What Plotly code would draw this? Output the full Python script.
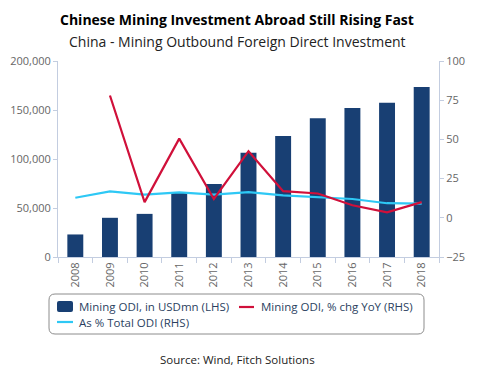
import plotly.graph_objects as go

years = ["2008", "2009", "2010", "2011", "2012", "2013", "2014", "2015", "2016", "2017", "2018"]
mining_odi = [23000, 40000, 44000, 66000, 74500, 106500, 123500, 141500, 152000, 157500, 173500]
yoy_chg = [None, 78, 10, 50.5, 12, 42.5, 17, 15.5, 8, 3.5, 10]
pct_total = [12.8, 16.9, 14.8, 16.2, 14.8, 16.4, 14.3, 13.3, 12.0, 9.3, 9.1]

names = ["Mining ODI, in USDmn (LHS)", "Mining ODI, % chg YoY (RHS)", "As % Total ODI (RHS)"]
colors = ["#183f73", "#d0103a", "#2ec8f5"]

W, H = 488, 381
L, R, T, B = 58, 49, 61, 124
pw, ph = W - L - R, H - T - B

def px(x):
    return (x - L) / pw

def py(y):
    return (H - B - y) / ph

fig = go.Figure()
fig.add_trace(go.Bar(x=years, y=mining_odi, name=names[0],
                     marker=dict(color=colors[0], line=dict(width=0)), width=0.46))
fig.add_trace(go.Scatter(x=years, y=pct_total, name=names[2], yaxis="y2",
                         mode="lines", line=dict(color=colors[2], width=2.2)))
fig.add_trace(go.Scatter(x=years, y=yoy_chg, name=names[1], yaxis="y2",
                         mode="lines", line=dict(color=colors[1], width=2.2)))

axcol = "#c3cde0"
tickfont = dict(family="Open Sans", size=11, color="#666666")
fig.update_layout(
    width=W, height=H,
    margin=dict(l=L, r=R, t=T, b=B, autoexpand=False),
    paper_bgcolor="white", plot_bgcolor="white",
    font=dict(family="Open Sans", color="#1f3b64"),
    showlegend=False,
    xaxis=dict(type="category", showgrid=False, showline=True, linecolor=axcol, linewidth=1,
               ticks="outside", tickson="boundaries", ticklen=5, tickcolor=axcol,
               tickangle=-90, tickfont=tickfont, zeroline=False, automargin=False),
    yaxis=dict(range=[0, 200000], dtick=50000, tickformat=",", showgrid=False, showline=True,
               linecolor=axcol, ticks="outside", ticklen=4, tickcolor=axcol,
               tickfont=tickfont, zeroline=False, automargin=False),
    yaxis2=dict(range=[-25, 100], dtick=25, overlaying="y", side="right", showgrid=False,
                showline=True, linecolor=axcol, ticks="outside", ticklen=4, tickcolor=axcol,
                tickfont=tickfont, zeroline=False, automargin=False),
)

# rounded legend border
x0, x1, y0, y1 = px(49), px(424), py(334), py(294)
rx, ry = 6 / pw, 6 / ph
path = (f"M {x0+rx},{y1} L {x1-rx},{y1} Q {x1},{y1} {x1},{y1-ry} "
        f"L {x1},{y0+ry} Q {x1},{y0} {x1-rx},{y0} L {x0+rx},{y0} "
        f"Q {x0},{y0} {x0},{y0+ry} L {x0},{y1-ry} Q {x0},{y1} {x0+rx},{y1} Z")
fig.add_shape(type="path", path=path, xref="paper", yref="paper",
              line=dict(color="#8c8c8c", width=1), fillcolor="rgba(0,0,0,0)")

# legend symbols
sx0, sx1, sy0, sy1 = px(57), px(73), py(312), py(301)
srx, sry = 2 / pw, 2 / ph
spath = (f"M {sx0+srx},{sy1} L {sx1-srx},{sy1} Q {sx1},{sy1} {sx1},{sy1-sry} "
         f"L {sx1},{sy0+sry} Q {sx1},{sy0} {sx1-srx},{sy0} L {sx0+srx},{sy0} "
         f"Q {sx0},{sy0} {sx0},{sy0+sry} L {sx0},{sy1-sry} Q {sx0},{sy1} {sx0+srx},{sy1} Z")
fig.add_shape(type="path", path=spath, xref="paper", yref="paper",
              line=dict(width=0), fillcolor=colors[0])
fig.add_shape(type="line", x0=px(239), x1=px(254), y0=py(307), y1=py(307),
              xref="paper", yref="paper", line=dict(color=colors[1], width=2.2))
fig.add_shape(type="line", x0=px(57), x1=px(73), y0=py(322), y1=py(322),
              xref="paper", yref="paper", line=dict(color=colors[2], width=2.2))

legfont = dict(family="Open Sans", size=11.5, color="#2b3f5f")
for text, lx, ly in [(names[0], 77, 306), (names[1], 259, 306), (names[2], 77, 322)]:
    fig.add_annotation(text=text, x=px(lx), y=py(ly), xref="paper", yref="paper",
                       xanchor="left", yanchor="middle", showarrow=False, font=legfont)

fig.add_annotation(text="<b>Chinese Mining Investment Abroad Still Rising Fast</b>",
                   x=px(237), y=py(19), xref="paper", yref="paper", showarrow=False,
                   xanchor="center", yanchor="middle",
                   font=dict(family="Open Sans", size=14, color="black"))
fig.add_annotation(text="China - Mining Outbound Foreign Direct Investment",
                   x=px(237), y=py(41), xref="paper", yref="paper", showarrow=False,
                   xanchor="center", yanchor="middle",
                   font=dict(family="Open Sans", size=14, color="#222222"))
fig.add_annotation(text="Source: Wind, Fitch Solutions",
                   x=px(237), y=py(359), xref="paper", yref="paper", showarrow=False,
                   xanchor="center", yanchor="middle",
                   font=dict(family="Open Sans", size=11.5, color="#222222"))

fig.write_html("out.html", config={"displayModeBar": False},
               post_script="document.body.style.margin='0';document.body.style.overflow='hidden';")
